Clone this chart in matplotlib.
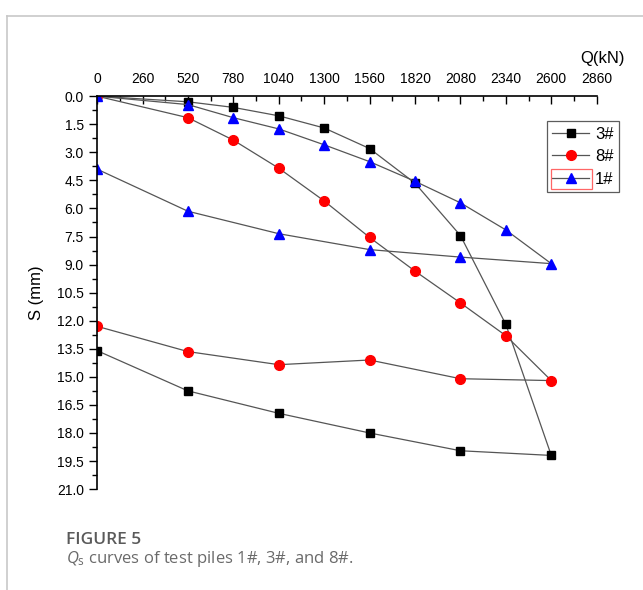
import matplotlib
matplotlib.use("Agg")
import matplotlib.pyplot as plt
from matplotlib.lines import Line2D
from matplotlib.patches import Rectangle

# load (kN) and settlement (mm); each pile: loading then unloading
q_3 = [0, 520, 780, 1040, 1300, 1560, 1820, 2080, 2340, 2600, 2080, 1560, 1040, 520, 0]
s_3 = [0.0, 0.3, 0.6, 1.05, 1.7, 2.8, 4.65, 7.45, 12.2, 19.2, 18.95, 18.0, 16.95, 15.75, 13.6]

q_8 = [0, 520, 780, 1040, 1300, 1560, 1820, 2080, 2340, 2600, 2080, 1560, 1040, 520, 0]
s_8 = [0.0, 1.15, 2.35, 3.85, 5.6, 7.55, 9.35, 11.05, 12.8, 15.2, 15.1, 14.1, 14.35, 13.65, 12.3]

q_1 = [0, 520, 780, 1040, 1300, 1560, 1820, 2080, 2340, 2600, 2080, 1560, 1040, 520, 0]
s_1 = [0.0, 0.45, 1.15, 1.75, 2.6, 3.5, 4.55, 5.7, 7.15, 8.95, 8.6, 8.2, 7.35, 6.15, 3.9]

x_ticks = [0, 260, 520, 780, 1040, 1300, 1560, 1820, 2080, 2340, 2600, 2860]
y_ticks = [0.0, 1.5, 3.0, 4.5, 6.0, 7.5, 9.0, 10.5, 12.0, 13.5, 15.0, 16.5, 18.0, 19.5, 21.0]

plt.rcParams['font.family'] = ['Liberation Sans', 'DejaVu Sans']
plt.rcParams['mathtext.fontset'] = 'custom'
plt.rcParams['mathtext.it'] = 'Open Sans:italic'
plt.rcParams['mathtext.rm'] = 'Open Sans'

fig = plt.figure(figsize=(6.43, 5.9), dpi=100)
ax = fig.add_axes([0.151, 0.171, 0.777, 0.666])

line_kw = dict(color='#555555', lw=0.9)
ax.plot(q_3, s_3, marker='s', ms=6.3, mfc='black', mec='black', **line_kw)
ax.plot(q_8, s_8, marker='o', ms=7, mfc='red', mec='red', **line_kw)
ax.plot(q_1, s_1, marker='^', ms=7.5, mfc='blue', mec='blue', **line_kw)

ax.set_xlim(0, 2860)
ax.set_ylim(21, 0)
ax.xaxis.tick_top()
ax.set_xticks(x_ticks)
ax.set_xticks([v + 130 for v in x_ticks[:-1]], minor=True)
ax.set_yticks(y_ticks)
ax.set_yticks([v + 0.75 for v in y_ticks[:-1]], minor=True)
ax.set_yticklabels(['%.1f' % v for v in y_ticks])
ax.tick_params(axis='x', which='major', direction='in', length=6, width=1, labelsize=10, pad=7)
ax.tick_params(axis='x', which='minor', direction='in', length=3.5, width=1)
ax.tick_params(axis='y', which='major', direction='out', length=6, width=1, labelsize=10)
ax.tick_params(axis='y', which='minor', direction='out', length=3.5, width=1)
for side in ['right', 'bottom']:
    ax.spines[side].set_visible(False)
for side in ['top', 'left']:
    ax.spines[side].set_linewidth(1.2)
ax.patch.set_alpha(0)

fig.text(625 / 643, 1 - 58 / 590, 'Q(kN)', ha='right', va='center', fontsize=12)
ax.set_ylabel('S (mm)', fontsize=12, labelpad=9)

# legend
handles = [
    Line2D([], [], color='#555555', lw=0.9, marker='s', ms=6.3, mfc='black', mec='black'),
    Line2D([], [], color='#555555', lw=0.9, marker='o', ms=7, mfc='red', mec='red'),
    Line2D([], [], color='#555555', lw=0.9, marker='^', ms=7.5, mfc='blue', mec='blue'),
]
leg = ax.legend(handles, ['3#', '8#', '1#'], loc='upper right', bbox_to_anchor=(1.044, 0.936),
                fontsize=12, frameon=True, fancybox=False, handlelength=2.2,
                handletextpad=0.35, borderpad=0.32, labelspacing=0.45, borderaxespad=0)
leg.get_frame().set_edgecolor('#333333')
leg.get_frame().set_linewidth(0.9)

# red selection box around the 1# legend entry
fig.add_artist(Rectangle((551 / 643, 1 - 189 / 590), 41 / 643, 20 / 590,
                         transform=fig.transFigure, fill=False, ec='#ff6666', lw=0.9))

# outer frame lines
fig.add_artist(Line2D([7 / 643, 7 / 643], [0, 1 - 16 / 590], transform=fig.transFigure,
                      color='#c8c8c8', lw=1.2))
fig.add_artist(Line2D([7 / 643, 1], [1 - 16 / 590, 1 - 16 / 590], transform=fig.transFigure,
                      color='#c8c8c8', lw=1.2))

# caption
fig.text(66 / 643, 1 - 540 / 590, 'FIGURE 5', fontsize=12.5, color='#5a5a5a',
         fontweight='semibold', family=['Open Sans', 'DejaVu Sans'], va='center')
fig.text(66 / 643, 1 - 559 / 590, r'$Q_\mathrm{s}$ curves of test piles 1#, 3#, and 8#.', fontsize=12,
         color='#6a6a6a', family=['Open Sans', 'DejaVu Sans'], va='center')

fig.savefig('out.png', dpi=100)
